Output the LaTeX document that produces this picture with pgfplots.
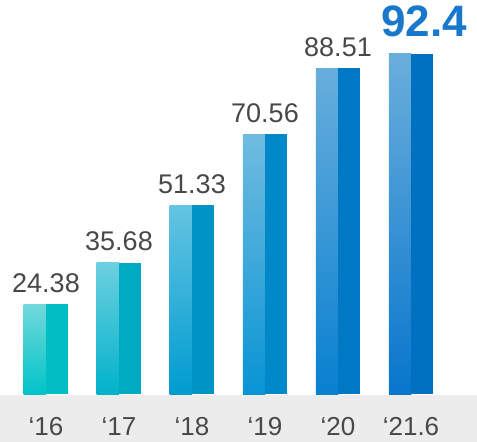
\documentclass[border=0pt]{standalone}
\usepackage{fontspec}
\setmainfont{Liberation Sans}
\usepackage{pgfplots}
\pgfplotsset{compat=1.18}

\definecolor{bandgray}{HTML}{ECECEC}
\definecolor{labelgray}{HTML}{484848}
\definecolor{hiblue}{HTML}{1A78CC}

\definecolor{aT}{HTML}{72D8DA}\definecolor{aM}{HTML}{00D4D8}\definecolor{aB}{HTML}{00C4C8}\definecolor{aR}{HTML}{00BEC4}
\definecolor{bT}{HTML}{6CD0E0}\definecolor{bM}{HTML}{00CAE2}\definecolor{bB}{HTML}{00B2CA}\definecolor{bR}{HTML}{00AAC0}
\definecolor{cT}{HTML}{64C4E2}\definecolor{cM}{HTML}{00AEE6}\definecolor{cB}{HTML}{009CD0}\definecolor{cR}{HTML}{0094C4}
\definecolor{dT}{HTML}{70BCE0}\definecolor{dM}{HTML}{10B0F8}\definecolor{dB}{HTML}{0894D4}\definecolor{dR}{HTML}{0088C8}
\definecolor{eT}{HTML}{68AEDC}\definecolor{eM}{HTML}{0C9AF6}\definecolor{eB}{HTML}{0880D0}\definecolor{eR}{HTML}{0078C4}
\definecolor{fT}{HTML}{6AAEDC}\definecolor{fM}{HTML}{0892F8}\definecolor{fB}{HTML}{0876CC}\definecolor{fR}{HTML}{0070C0}

% one bar = light shaded left half + solid right half
\newcommand{\twotonebar}[3]{%
  \addplot[ybar, bar width=22.5pt, bar shift=-11pt, draw=none,
    top color=#3T, middle color=#3M, bottom color=#3B] coordinates {(#1,#2)};
  \addplot[ybar, bar width=22pt, bar shift=11pt, draw=none, fill=#3R]
    coordinates {(#1,#2)};
}

\begin{document}
\begin{tikzpicture}
\begin{axis}[
    set layers,
    scale only axis,
    width=477pt, height=442pt,
    xmin=-0.63, xmax=5.904,
    ymin=-13.04, ymax=107.07,
    axis line style={draw=none},
    tick style={draw=none},
    ytick=\empty,
    xtick={0,1,2,3,4,5},
    xticklabels={‘16,‘17,‘18,‘19,‘20,‘21.6},
    xticklabel style={anchor=base, yshift=6pt, text=labelgray,
        font=\fontsize{26}{26}\selectfont},
    clip=false,
]

% gray band under the bars
\addplot[draw=none, fill=bandgray, on layer=axis background] coordinates
    {(-0.63,-13.04) (5.904,-13.04) (5.904,-0.3) (-0.63,-0.3)} -- cycle;

\twotonebar{0}{24.38}{a}
\twotonebar{1}{35.68}{b}
\twotonebar{2}{51.33}{c}
\twotonebar{3}{70.56}{d}
\twotonebar{4}{88.51}{e}
\twotonebar{5}{92.4}{f}

% value labels
\addplot[draw=none, mark=none, nodes near coords, point meta=explicit symbolic,
    nodes near coords style={anchor=base, inner sep=0pt, yshift=12pt,
        text=labelgray, font=\fontsize{27}{27}\selectfont}]
    coordinates {(0,24.38)[24.38] (1,35.68)[35.68] (2,51.33)[51.33]
                 (3,70.56)[70.56] (4,88.51)[88.51]};
\addplot[draw=none, mark=none, nodes near coords, point meta=explicit symbolic,
    nodes near coords style={anchor=base, inner sep=0pt, yshift=17pt, xshift=13pt,
        text=hiblue, font=\fontsize{44}{44}\selectfont\bfseries}]
    coordinates {(5,92.4)[92.4]};

\end{axis}
\end{tikzpicture}
\end{document}
